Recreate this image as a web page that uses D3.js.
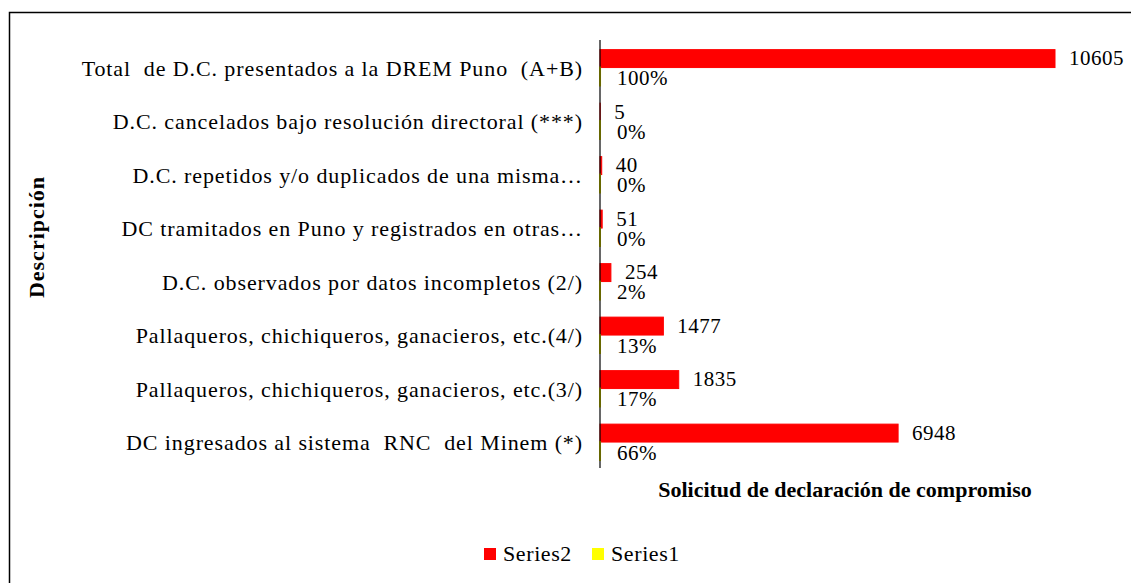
<!DOCTYPE html>
<html>
<head>
<meta charset="utf-8">
<script src="https://cdn.jsdelivr.net/npm/d3@7"></script>
<style>
  body { margin: 0; background: #fff; }
  text { font-family: "Liberation Serif", "Times New Roman", serif; fill: #000; }
</style>
</head>
<body>
<div class="chart"></div>
<script>
// categories, top to bottom
var categories = [
  "Total  de D.C. presentados a la DREM Puno  (A+B)",
  "D.C. cancelados bajo resolución directoral (***)",
  "D.C. repetidos y/o duplicados de una misma…",
  "DC tramitados en Puno y registrados en otras…",
  "D.C. observados por datos incompletos (2/)",
  "Pallaqueros, chichiqueros, ganacieros, etc.(4/)",
  "Pallaqueros, chichiqueros, ganacieros, etc.(3/)",
  "DC ingresados al sistema  RNC  del Minem (*)"
];
var series2 = [10605, 5, 40, 51, 254, 1477, 1835, 6948];
var series1 = [1.00, 0.0005, 0.0038, 0.0048, 0.024, 0.139, 0.173, 0.655];
var series1Labels = ["100%", "0%", "0%", "0%", "2%", "13%", "17%", "66%"];
var seriesNames = ["Series2", "Series1"];
var colors = ["#ff0000", "#ffff00"];

var W = 1131, H = 583;
var margin = {top: 40, left: 600, right: 76, bottom: 115};
var width = W - margin.left - margin.right,
    height = H - margin.top - margin.bottom;

var svg = d3.select(".chart").append("svg")
    .attr("width", W)
    .attr("height", H);

// chart border
svg.append("rect")
    .attr("x", 9.5).attr("y", 12.5)
    .attr("width", W + 10).attr("height", H + 10)
    .attr("fill", "none")
    .attr("stroke", "#000")
    .attr("stroke-width", 1.5);

var g = svg.append("g")
    .attr("transform", "translate(" + margin.left + "," + margin.top + ")");

var x = d3.scaleLinear()
    .domain([0, 10605])
    .range([0, 455]);

var y = d3.scaleBand()
    .domain(categories)
    .range([0, height]);

var inner = d3.scaleBand()
    .domain(seriesNames)
    .range([y.bandwidth() * 0.18, y.bandwidth() * 0.85]);

// category labels
g.append("g").selectAll("text")
    .data(categories)
    .enter().append("text")
    .attr("x", -17)
    .attr("y", function(d) { return y(d) + y.bandwidth() / 2 + 4; })
    .attr("text-anchor", "end")
    .attr("dominant-baseline", "middle")
    .style("font-size", "22px")
    .style("letter-spacing", "0.9px")
    .style("white-space", "pre")
    .text(function(d) { return d; });

// series2 bars
g.append("g").selectAll("rect")
    .data(series2)
    .enter().append("rect")
    .attr("x", x(0))
    .attr("y", function(d, i) { return y(categories[i]) + inner("Series2"); })
    .attr("width", function(d) { return x(d) - x(0); })
    .attr("height", inner.bandwidth())
    .attr("fill", colors[0])
    .attr("stroke", colors[0])
    .attr("stroke-width", 1);

// series1 bars
g.append("g").selectAll("rect")
    .data(series1)
    .enter().append("rect")
    .attr("x", x(0))
    .attr("y", function(d, i) { return y(categories[i]) + inner("Series1"); })
    .attr("width", function(d) { return x(d) - x(0); })
    .attr("height", inner.bandwidth())
    .attr("fill", colors[1])
    .attr("stroke", colors[1])
    .attr("stroke-width", 2);

// value labels
g.append("g").selectAll("text")
    .data(series2)
    .enter().append("text")
    .attr("x", function(d) { return x(d) + 14; })
    .attr("y", function(d, i) { return y(categories[i]) + inner("Series2") + inner.bandwidth() / 2 + 2; })
    .attr("dominant-baseline", "middle")
    .style("font-size", "21px")
    .style("letter-spacing", "0.5px")
    .text(function(d) { return d; });

g.append("g").selectAll("text")
    .data(series1)
    .enter().append("text")
    .attr("x", function(d) { return x(d) + 17; })
    .attr("y", function(d, i) { return y(categories[i]) + inner("Series1") + inner.bandwidth() / 2 + 4; })
    .attr("dominant-baseline", "middle")
    .style("font-size", "21px")
    .style("letter-spacing", "0.5px")
    .text(function(d, i) { return series1Labels[i]; });

// axis line
g.append("line")
    .attr("x1", x(0)).attr("x2", x(0))
    .attr("y1", 0).attr("y2", height)
    .attr("stroke", "#000")
    .attr("stroke-width", 1.2);

// axis titles
svg.append("text")
    .attr("transform", "rotate(-90)")
    .attr("x", -237)
    .attr("y", 44)
    .attr("text-anchor", "middle")
    .style("font-size", "22px")
    .style("letter-spacing", "1px")
    .style("font-weight", "bold")
    .text("Descripción");

svg.append("text")
    .attr("x", 845)
    .attr("y", 497)
    .attr("text-anchor", "middle")
    .style("font-size", "22px")
    .style("font-weight", "bold")
    .text("Solicitud de declaración de compromiso");

// legend
var legend = svg.append("g")
    .attr("class", "legend")
    .attr("transform", "translate(484,548)");

var item = legend.selectAll("g")
    .data(seriesNames)
    .enter().append("g")
    .attr("transform", function(d, i) { return "translate(" + (i * 108) + ",0)"; });

item.append("rect")
    .attr("width", 12).attr("height", 12)
    .attr("fill", function(d, i) { return colors[i]; });

item.append("text")
    .attr("x", 19)
    .attr("y", 13)
    .style("font-size", "22px")
    .style("letter-spacing", "0.6px")
    .text(function(d) { return d; });
</script>
</body>
</html>
